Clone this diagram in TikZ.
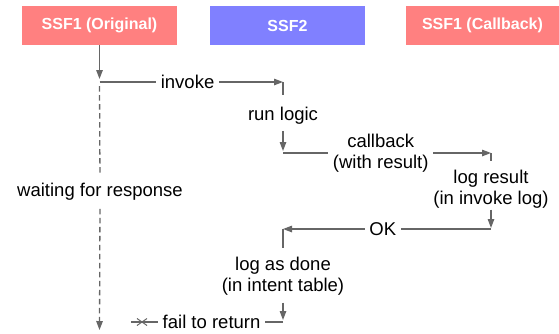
\documentclass[tikz,border=0pt]{standalone}
\usepackage{fontspec}
\setmainfont{Liberation Sans}
\usetikzlibrary{arrows.meta,shapes.misc}
\definecolor{boxred}{HTML}{FF8080}
\definecolor{boxblue}{HTML}{8080FF}
\definecolor{ln}{HTML}{666666}
\begin{document}
\begin{tikzpicture}[x=1pt,y=-1pt,
  actor/.style={fill=#1, minimum width=155pt, minimum height=39pt, text=white, font=\fontsize{16}{19}\selectfont\bfseries, inner sep=0pt},
  conn/.style={draw=ln, line width=1.3pt},
  tip/.style={-{Triangle[length=9pt,width=6.5pt]}},
  lbl/.style={font=\fontsize{18.5}{21.5}\selectfont, align=center, inner sep=0pt},
  cut/.style={lbl, fill=white, inner xsep=4.5pt, inner ysep=1pt},
  life/.style={conn, dash pattern=on 5.5pt off 3.5pt}]
\useasboundingbox (0,0) rectangle (559,333);
\node[actor=boxred] (o) at (99.5,25.5) {SSF1 (Original)};
\node[actor=boxblue] (s2) at (287.5,25.5) {SSF2};
\node[actor=boxred, minimum width=153pt] (cb) at (482.5,25.5) {SSF1 (Callback)};

\coordinate (o1) at (99.5,82);
\coordinate (r1) at (283,82);
\coordinate (r2) at (283,95);
\node[lbl] (run) at (283,116) {run logic};
\coordinate (r3) at (283,153);
\coordinate (c1) at (491,153);
\coordinate (c2) at (491,161);
\node[lbl] (logr) at (491,189) {log result\\(in invoke log)};
\coordinate (c3) at (491,229);
\coordinate (d1) at (283,229);
\coordinate (d2) at (283,248);
\node[lbl] (logd) at (283,276) {log as done\\(in intent table)};
\coordinate (d3) at (283,322);
\coordinate (f1) at (131,322);
\node[lbl] (wait) at (100,192) {waiting for response};
\coordinate (o2) at (99.5,330);

\draw[conn,tip,shorten >=3pt] (o.south) -- (o1);
\draw[conn,tip] (o1) -- node[cut,pos=0.48] (inv) {invoke} (r1);
\draw[conn] (r1) -- (r2);
\draw[conn,tip,shorten <=6pt,shorten >=2pt] (run.south) -- (r3);
\draw[conn,tip] (r3) -- node[cut,pos=0.47] (cbk) {callback\\(with result)} (c1);
\draw[conn] (c1) -- (c2);
\draw[conn,tip,shorten <=1pt,shorten >=1pt] (logr.south) -- (c3);
\draw[conn,tip] (c3) -- node[cut,pos=0.52] (ok) {OK} (d1);
\draw[conn] (d1) -- (d2);
\draw[conn,tip,shorten <=7pt,shorten >=2pt] (logd.south) -- (d3);
\draw[conn] (d3) -- node[cut,pos=0.47] (fail) {fail to return} (f1);
\node[cross out, draw=ln, line width=1pt, minimum width=9pt, minimum height=6pt, inner sep=0pt] (x) at (142,322) {};
\draw[life,shorten <=4pt,shorten >=8pt] (o1) -- (wait.north);
\draw[life,tip,shorten <=8pt] (wait.south) -- (o2);
\end{tikzpicture}
\end{document}
